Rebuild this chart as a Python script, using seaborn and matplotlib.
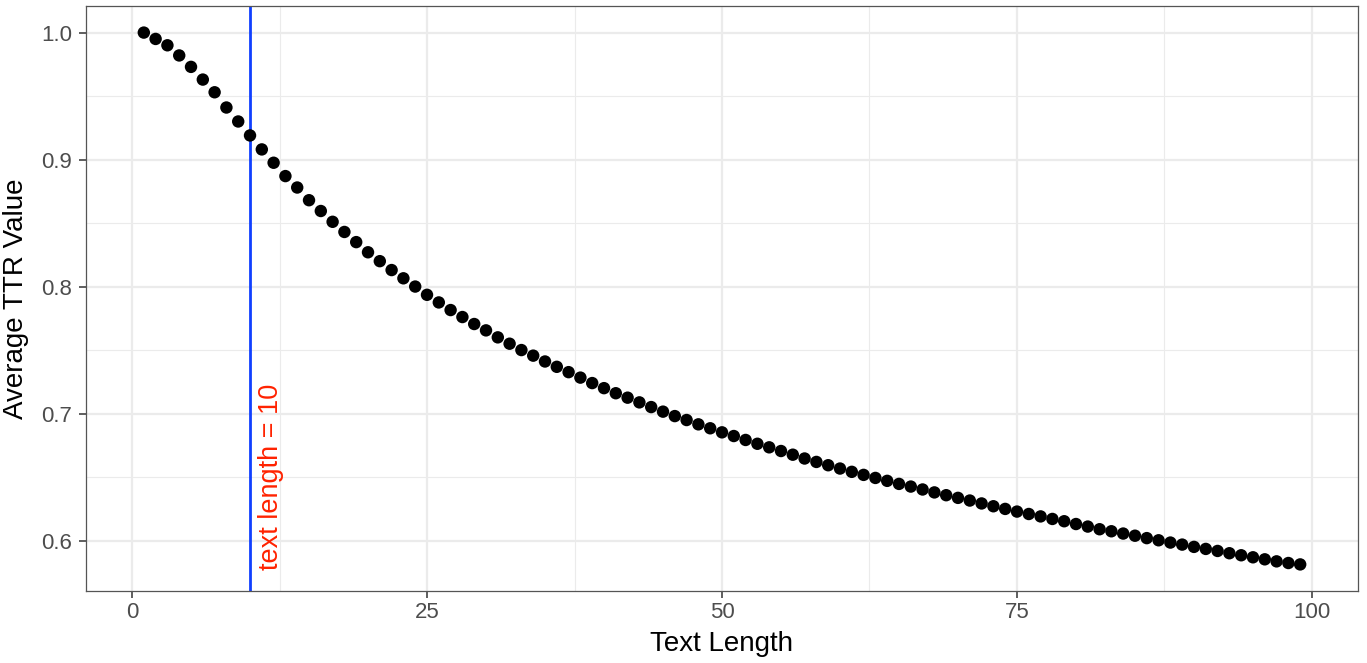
import numpy as np
import pandas as pd
import matplotlib
matplotlib.use("Agg")
import matplotlib.pyplot as plt
import seaborn as sns
from matplotlib.ticker import MultipleLocator

# ---- data ----
text_length = list(range(1, 100))
avg_ttr = [
    1.000, 0.995, 0.990, 0.982, 0.973, 0.963, 0.953, 0.941, 0.930, 0.919,
    0.908, 0.8975, 0.887, 0.878, 0.868, 0.8595, 0.851, 0.843, 0.835, 0.827,
    0.820, 0.813, 0.8065, 0.800, 0.7935, 0.7875, 0.7815, 0.776, 0.7705, 0.7655,
    0.760, 0.755, 0.750, 0.7456, 0.741, 0.7368, 0.7326, 0.7283, 0.724, 0.720,
    0.716, 0.7125, 0.7088, 0.7051, 0.7015, 0.698, 0.6949, 0.6915, 0.6884, 0.6852,
    0.6823, 0.6792, 0.6762, 0.6734, 0.6705, 0.6676, 0.6646, 0.6619, 0.6593, 0.6567,
    0.6541, 0.6517, 0.6493, 0.6470, 0.6446, 0.6425, 0.6402, 0.6379, 0.6357, 0.6336,
    0.6315, 0.6292, 0.6270, 0.6249, 0.6228, 0.6209, 0.6190, 0.6170, 0.6152, 0.6130,
    0.6110, 0.6089, 0.6073, 0.6055, 0.6038, 0.6019, 0.6002, 0.5984, 0.5968, 0.5950,
    0.5934, 0.5918, 0.5900, 0.5884, 0.5868, 0.5852, 0.5836, 0.5823, 0.5812,
]
x_ticks = [0, 25, 50, 75, 100]
y_ticks = [0.6, 0.7, 0.8, 0.9, 1.0]
y_tick_labels = ["0.6", "0.7", "0.8", "0.9", "1.0"]
marker_x = 10
marker_label = "text length = 10"

df = pd.DataFrame({"Text Length": text_length, "Average TTR Value": avg_ttr})

sns.set_theme(style="white")
plt.rcParams["font.family"] = ["Liberation Sans", "DejaVu Sans"]

fig = plt.figure(figsize=(13.67, 6.63), dpi=100)
ax = fig.add_axes([86 / 1367, 1 - 591 / 663, (1358 - 86) / 1367, (591 - 6) / 663])
ax.set_facecolor("white")

# grid
ax.xaxis.set_major_locator(MultipleLocator(25))
ax.xaxis.set_minor_locator(MultipleLocator(12.5))
ax.yaxis.set_major_locator(MultipleLocator(0.1))
ax.yaxis.set_minor_locator(MultipleLocator(0.05))
ax.grid(which="major", color="#EBEBEB", linewidth=1.6, zorder=0)
ax.grid(which="minor", color="#EBEBEB", linewidth=0.8, zorder=0)
ax.set_axisbelow(True)

sns.scatterplot(data=df, x="Text Length", y="Average TTR Value", ax=ax,
                color="black", s=80, edgecolor="none", zorder=3)

ax.axvline(marker_x, color="#1040FF", linewidth=2.0, zorder=2)
ax.text(marker_x + 1.75, 0.5765, marker_label, rotation=90, color="#FF2200",
        fontsize=19.5, ha="center", va="bottom", zorder=4)

# limits (ggplot 5% expansion)
xr = max(text_length) - min(text_length)
yr = max(avg_ttr) - min(avg_ttr)
ax.set_xlim(min(text_length) - 0.05 * xr, max(text_length) + 0.05 * xr)
ax.set_ylim(min(avg_ttr) - 0.05 * yr, max(avg_ttr) + 0.05 * yr)

ax.set_xticks(x_ticks)
ax.set_xticklabels([str(t) for t in x_ticks])
ax.set_yticks(y_ticks)
ax.set_yticklabels(y_tick_labels)

for sp in ax.spines.values():
    sp.set_visible(True)
    sp.set_color("#555555")
    sp.set_linewidth(0.9)

ax.tick_params(axis="both", which="major", length=5, width=1.1, color="#333333",
               labelsize=16, labelcolor="#4D4D4D", direction="out")
ax.tick_params(axis="x", which="major", pad=3)
ax.tick_params(axis="y", which="major", pad=5)
ax.tick_params(which="minor", length=0)
ax.tick_params(bottom=True, left=True)

ax.set_xlabel("Text Length", fontsize=20, color="black", labelpad=6)
ax.set_ylabel("Average TTR Value", fontsize=20, color="black", labelpad=9)

fig.savefig("out.png", dpi=100, facecolor="white")
